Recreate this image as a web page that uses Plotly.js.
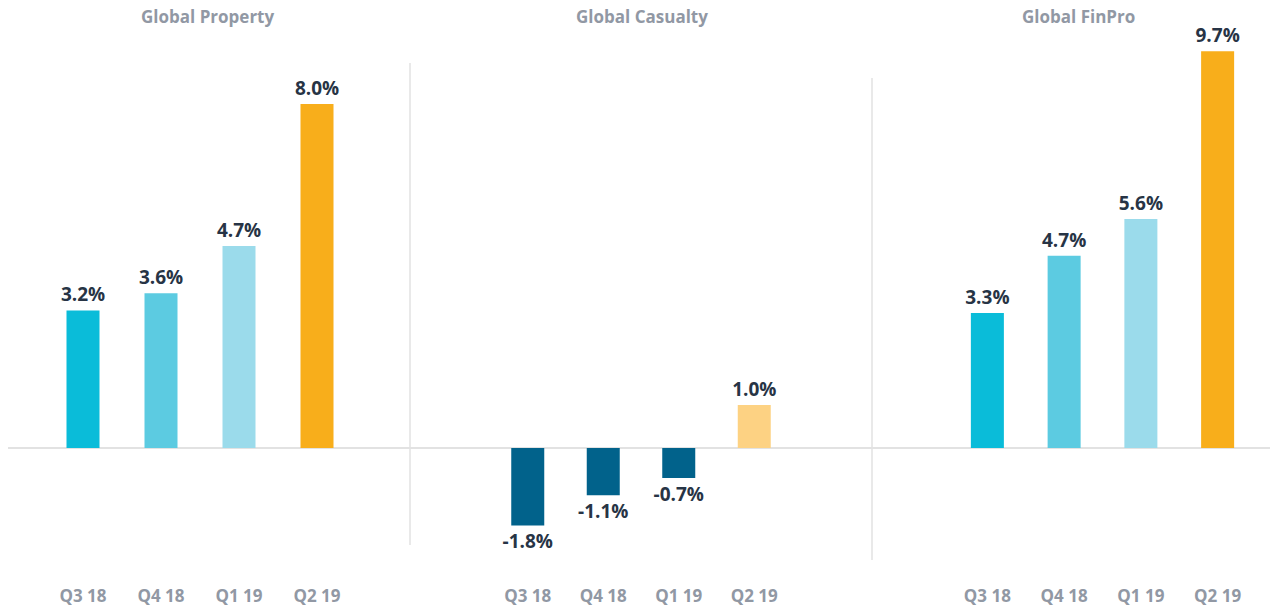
<!DOCTYPE html>
<html>
<head>
<meta charset="utf-8">
<script src="https://cdn.plot.ly/plotly-3.0.1.min.js"></script>
<style>html,body{margin:0;padding:0;background:#fff;}#chart{width:1276px;height:609px;}</style>
</head>
<body>
<div id="chart"></div>
<script>
const quarters = ['Q3 18', 'Q4 18', 'Q1 19', 'Q2 19'];
const panelTitles = ['Global Property', 'Global Casualty', 'Global FinPro'];
const propertyValues = [3.2, 3.6, 4.7, 8.0];
const casualtyValues = [-1.8, -1.1, -0.7, 1.0];
const finproValues = [3.3, 4.7, 5.6, 9.7];
const propertyColors = ['#0abcd9', '#5ccbe1', '#9bdbeb', '#f8ae1b'];
const casualtyColors = ['#01628b', '#01628b', '#01628b', '#fdd283'];
const finproColors = ['#0abcd9', '#5ccbe1', '#9bdbeb', '#f8ae1b'];

const W = 1276, H = 609;
const FONT = '"Open Sans", Lato, sans-serif';
const labelFont = {family: FONT, size: 19, color: '#273445', weight: 700};
const tickFont = {family: FONT, size: 17, color: '#9198a4', weight: 700};

function fmt(v) { return v.toFixed(1) + '%'; }

function barTrace(vals, colors, xa, ya, w) {
  return {
    type: 'bar', x: quarters, y: vals, xaxis: xa, yaxis: ya,
    marker: {color: colors, line: {width: 0}},
    width: quarters.map(() => w),
    text: vals.map(fmt), textposition: 'outside', cliponaxis: false,
    textfont: labelFont, outsidetextfont: labelFont, constraintext: 'none',
    hoverinfo: 'skip', showlegend: false
  };
}

const data = [
  barTrace(propertyValues, propertyColors, 'x', 'y', 0.423),
  barTrace(casualtyValues, casualtyColors, 'x2', 'y2', 0.437),
  barTrace(finproValues, finproColors, 'x3', 'y3', 0.43)
];

const bottomPx = 584, zeroPx = 448;
const yDomain = [(H - bottomPx) / H, 1];
function yRange(pxPerUnit) { return [-(bottomPx - zeroPx) / pxPerUnit, zeroPx / pxPerUnit]; }

function xAxis(d0, d1, anchor) {
  return {domain: [d0 / W, d1 / W], anchor: anchor, type: 'category', showgrid: false, zeroline: false,
    showline: false, ticks: '', tickfont: tickFont, fixedrange: true};
}
function yAxis(rng, anchor) {
  return {domain: yDomain, range: rng, anchor: anchor, showgrid: false, zeroline: false, showline: false,
    showticklabels: false, ticks: '', fixedrange: true};
}

const titleX = [207, 642, 1078];
const layout = {
  width: W, height: H, margin: {l: 0, r: 0, t: 0, b: 0},
  paper_bgcolor: '#ffffff', plot_bgcolor: 'rgba(0,0,0,0)',
  xaxis: xAxis(44, 356, 'y'),
  xaxis2: xAxis(490, 792, 'y2'),
  xaxis3: xAxis(949, 1256, 'y3'),
  yaxis: yAxis(yRange(43), 'x'),
  yaxis2: yAxis(yRange(43), 'x2'),
  yaxis3: yAxis(yRange(40.9), 'x3'),
  shapes: [
    {type: 'line', xref: 'paper', yref: 'y', x0: 8 / W, x1: 1270 / W, y0: 0, y1: 0, layer: 'below',
      line: {color: '#e2e2e2', width: 2}},
    {type: 'line', xref: 'paper', yref: 'paper', x0: 410 / W, x1: 410 / W, y0: 1 - 545 / H, y1: 1 - 63 / H,
      layer: 'below', line: {color: '#e2e2e2', width: 1.5}},
    {type: 'line', xref: 'paper', yref: 'paper', x0: 872 / W, x1: 872 / W, y0: 1 - 560 / H, y1: 1 - 78 / H,
      layer: 'below', line: {color: '#e2e2e2', width: 1.5}}
  ],
  annotations: panelTitles.map((t, i) => ({
    text: t, xref: 'paper', yref: 'paper', x: titleX[i] / W, y: 1 - 17 / H,
    xanchor: 'center', yanchor: 'middle', showarrow: false,
    font: {family: FONT, size: 17, color: '#9198a4', weight: 700}
  }))
};

Plotly.newPlot('chart', data, layout, {displayModeBar: false, staticPlot: true});
</script>
</body>
</html>
